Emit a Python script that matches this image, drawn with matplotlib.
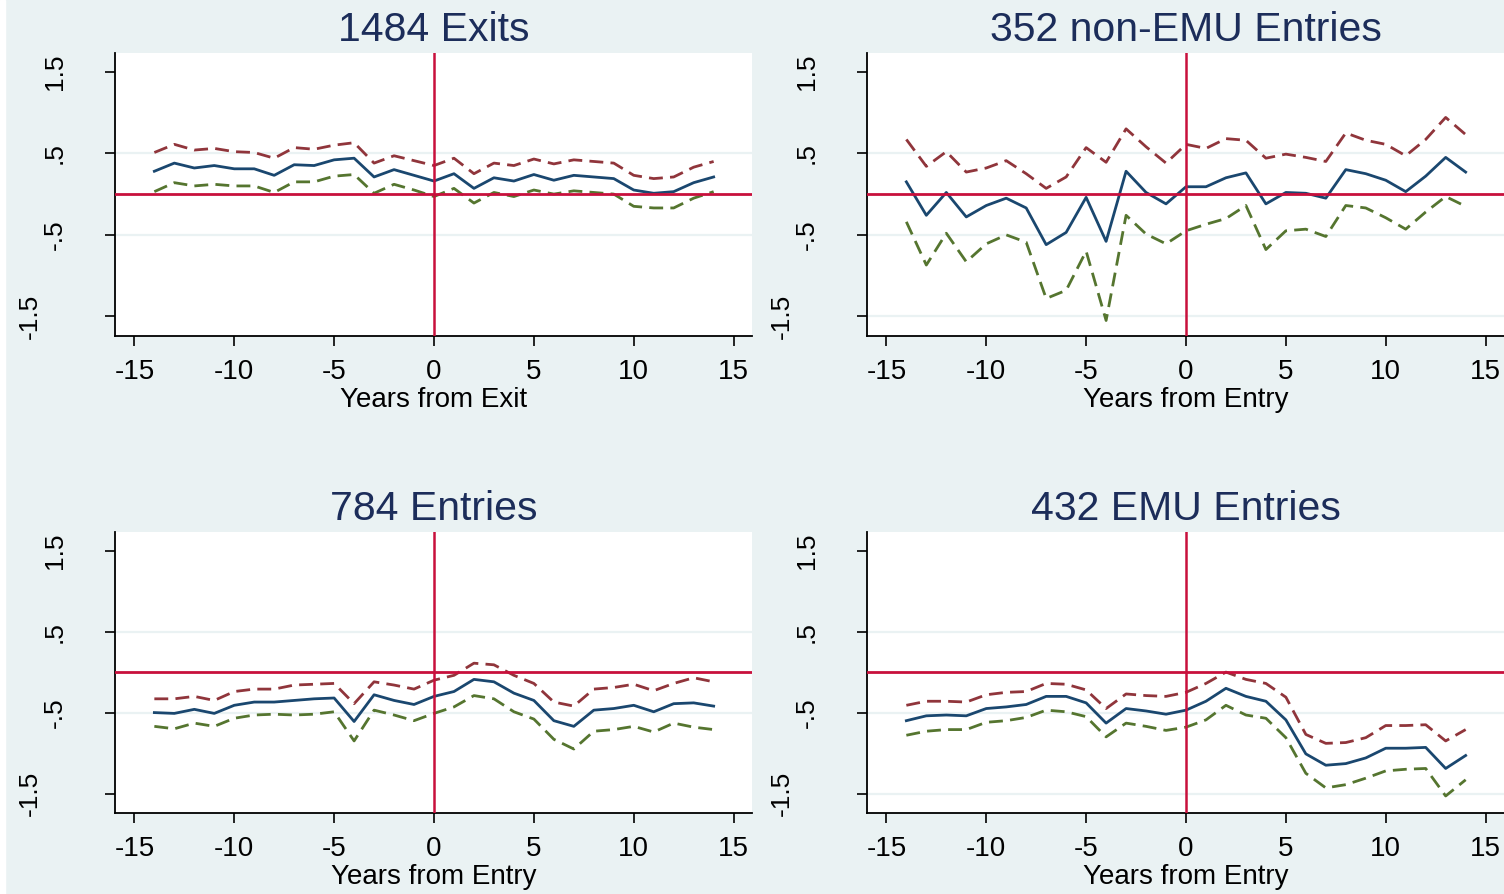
import matplotlib
matplotlib.use("Agg")
import matplotlib.pyplot as plt
import matplotlib.transforms as mtransforms
from matplotlib.patches import Rectangle
import numpy as np

plt.rcParams['font.family'] = ['Liberation Sans', 'DejaVu Sans']

years = np.arange(-14, 15)

titles = ["1484 Exits", "352 non-EMU Entries", "784 Entries", "432 EMU Entries"]
xlabels = ["Years from Exit", "Years from Entry", "Years from Entry", "Years from Entry"]

# point estimates and upper / lower bands
exit_est = [0.28, 0.38, 0.32, 0.35, 0.31, 0.31, 0.23, 0.36, 0.35, 0.42, 0.44, 0.21, 0.30, 0.23, 0.16,
            0.25, 0.07, 0.20, 0.16, 0.24, 0.17, 0.23, 0.21, 0.19, 0.05, 0.01, 0.03, 0.14, 0.21]
exit_hi = [0.51, 0.61, 0.54, 0.56, 0.52, 0.51, 0.44, 0.57, 0.55, 0.60, 0.63, 0.38, 0.47, 0.41, 0.35,
           0.44, 0.25, 0.38, 0.35, 0.43, 0.37, 0.42, 0.40, 0.38, 0.23, 0.19, 0.21, 0.33, 0.40]
exit_lo = [0.03, 0.14, 0.10, 0.12, 0.10, 0.10, 0.02, 0.15, 0.15, 0.22, 0.24, 0.01, 0.12, 0.05, -0.03,
           0.07, -0.11, 0.02, -0.03, 0.05, 0.00, 0.04, 0.02, 0.00, -0.15, -0.17, -0.17, -0.05, 0.03]

nonemu_est = [0.15, -0.26, 0.02, -0.28, -0.14, -0.05, -0.17, -0.62, -0.47, -0.04, -0.58, 0.28, 0.02, -0.12, 0.09,
              0.09, 0.20, 0.26, -0.12, 0.02, 0.01, -0.05, 0.30, 0.25, 0.17, 0.03, 0.22, 0.45, 0.27]
nonemu_hi = [0.67, 0.34, 0.52, 0.27, 0.32, 0.41, 0.25, 0.07, 0.21, 0.57, 0.39, 0.80, 0.58, 0.38, 0.61,
             0.56, 0.68, 0.66, 0.44, 0.49, 0.45, 0.40, 0.75, 0.66, 0.61, 0.47, 0.67, 0.94, 0.73]
nonemu_lo = [-0.34, -0.87, -0.48, -0.83, -0.61, -0.50, -0.59, -1.28, -1.18, -0.70, -1.55, -0.26, -0.49, -0.61, -0.45,
             -0.37, -0.30, -0.14, -0.68, -0.45, -0.43, -0.52, -0.14, -0.17, -0.29, -0.43, -0.22, -0.03, -0.15]

entry_est = [-0.50, -0.51, -0.46, -0.51, -0.41, -0.37, -0.37, -0.35, -0.33, -0.32, -0.61, -0.28, -0.35, -0.40, -0.30,
             -0.24, -0.09, -0.12, -0.26, -0.35, -0.60, -0.67, -0.47, -0.45, -0.41, -0.49, -0.39, -0.38, -0.42]
entry_hi = [-0.33, -0.33, -0.30, -0.35, -0.24, -0.21, -0.21, -0.16, -0.15, -0.14, -0.39, -0.12, -0.16, -0.21, -0.10,
            -0.04, 0.11, 0.09, -0.04, -0.14, -0.37, -0.42, -0.21, -0.19, -0.15, -0.23, -0.14, -0.07, -0.12]
entry_lo = [-0.67, -0.70, -0.63, -0.67, -0.57, -0.53, -0.52, -0.53, -0.52, -0.49, -0.85, -0.47, -0.53, -0.60, -0.51,
            -0.43, -0.29, -0.33, -0.49, -0.58, -0.83, -0.95, -0.73, -0.71, -0.67, -0.74, -0.63, -0.68, -0.71]

emu_est = [-0.60, -0.54, -0.53, -0.54, -0.45, -0.43, -0.40, -0.30, -0.30, -0.38, -0.63, -0.45, -0.48, -0.52, -0.47,
           -0.36, -0.20, -0.30, -0.36, -0.59, -1.01, -1.15, -1.13, -1.06, -0.94, -0.94, -0.93, -1.19, -1.03]
emu_hi = [-0.41, -0.36, -0.36, -0.37, -0.28, -0.25, -0.24, -0.14, -0.15, -0.22, -0.45, -0.27, -0.29, -0.30, -0.25,
          -0.14, 0.00, -0.09, -0.14, -0.31, -0.77, -0.88, -0.87, -0.81, -0.66, -0.66, -0.65, -0.85, -0.71]
emu_lo = [-0.78, -0.73, -0.71, -0.71, -0.62, -0.60, -0.56, -0.47, -0.49, -0.55, -0.80, -0.63, -0.67, -0.72, -0.68,
          -0.59, -0.41, -0.53, -0.57, -0.81, -1.25, -1.43, -1.39, -1.31, -1.22, -1.20, -1.19, -1.53, -1.33]

ests = [exit_est, nonemu_est, entry_est, emu_est]
his = [exit_hi, nonemu_hi, entry_hi, emu_hi]
los = [exit_lo, nonemu_lo, entry_lo, emu_lo]

yticks = [1.5, 0.5, -0.5, -1.5]
ytick_labels = ["1.5", ".5", "-.5", "-1.5"]
xticks = [-15, -10, -5, 0, 5, 10, 15]

bg = '#EAF2F3'
navy = '#1A476F'
maroon = '#90353B'
green = '#55752F'
red = '#C8103C'
title_col = '#1C2D5A'

W, H = 1504, 894
fig = plt.figure(figsize=(W / 100, H / 100), dpi=100, facecolor=bg)
fig.add_artist(Rectangle((0, 0), 5 / W, 1, transform=fig.transFigure, color='white', zorder=-1))

# panel boxes in pixels: left, top, right, bottom
boxes = [(115, 53, 752, 336), (867, 53, 1504, 336), (115, 532, 752, 813), (867, 532, 1504, 813)]

for k in range(4):
    l, t, r, b = boxes[k]
    ax = fig.add_axes([l / W, (H - b) / H, (r - l) / W, (b - t) / H])
    ax.set_facecolor('white')
    ax.set_xlim(-15.97, 15.92)
    ax.set_ylim(-1.74, 1.73)

    grid_at = [0.5, -0.5] if k % 2 == 0 else [0.5, -0.5, -1.5]
    for g in grid_at:
        ax.axhline(g, color=bg, lw=1.6, zorder=0)

    ax.plot(years, his[k], color=maroon, lw=2.0, dashes=(5, 2.6), zorder=2)
    ax.plot(years, ests[k], color=navy, lw=2.0, zorder=3)
    ax.plot(years, los[k], color=green, lw=2.0, dashes=(5, 2.6), zorder=2)
    ax.axhline(0, color=red, lw=2.0, zorder=4)
    ax.axvline(0, color=red, lw=1.8, zorder=4)

    for s in ['top', 'right']:
        ax.spines[s].set_visible(False)
    for s in ['left', 'bottom']:
        ax.spines[s].set_linewidth(1.3)
        ax.spines[s].set_color('black')

    ax.set_xticks(xticks)
    ax.set_xticklabels([str(v) for v in xticks])
    ax.tick_params(axis='x', length=7.5, width=1.2, labelsize=20, pad=9)
    ax.set_yticks(yticks)
    ax.set_yticklabels([])
    ax.tick_params(axis='y', length=7.5, width=1.2)

    for v, lab in zip(yticks, ytick_labels):
        off = -78 if lab == "-1.5" else -53
        tr = mtransforms.offset_copy(ax.get_yaxis_transform(), fig=fig, x=off, y=0, units='dots')
        ax.text(0, v, lab, transform=tr, rotation=90, rotation_mode='anchor',
                ha='center', va='baseline', fontsize=19, color='black')

    ax.set_xlabel(xlabels[k], fontsize=20, labelpad=1.5)
    ax.set_title(titles[k], fontsize=29.5, color=title_col, pad=8.5)

fig.savefig('out.png', dpi=100, facecolor=bg)
